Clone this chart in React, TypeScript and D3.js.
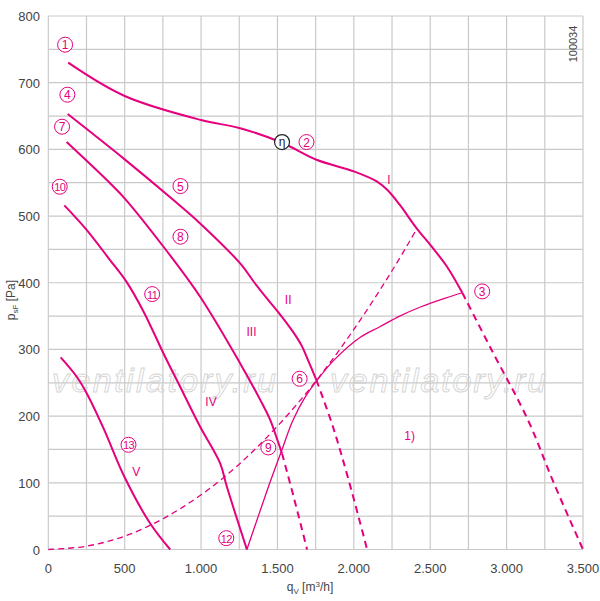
import React from "react";
import * as d3 from "d3";

// fan curves, q in m3/h, p in Pa
const curveI = [[130, 730], [500, 680], [1000, 644], [1250, 632], [1530, 610], [1760, 584], [2000, 567], [2150, 552], [2220, 539], [2300, 517], [2410, 482], [2510, 454], [2610, 424], [2710, 385]];
const curveIDash = [[2710, 385], [2900, 300], [3140, 194], [3310, 99], [3500, 0]];
const curveII = [[127, 653], [500, 585], [819, 524], [994, 489], [1256, 429], [1350, 400], [1440, 374], [1519, 352], [1600, 327], [1660, 305], [1700, 284], [1755, 254]];
const curveIIDash = [[1755, 254], [1862, 185], [1966, 104], [2087, 0]];
const curveIII = [[120, 611], [383, 554], [498, 527], [754, 454], [994, 379], [1256, 279], [1388, 224], [1453, 194], [1497, 166], [1530, 144]];
const curveIIIDash = [[1530, 144], [1606, 79], [1694, 0]];
const curveIV = [[105, 516], [252, 479], [404, 434], [510, 402], [623, 357], [754, 294], [863, 244], [994, 184], [1125, 129], [1169, 94], [1300, 0]];
const curveV = [[81, 288], [186, 259], [252, 234], [361, 182], [498, 109], [667, 39], [798, 0]];
// system curve (dashed) and limit line (thin)
const systemCurve = [[0, 0], [250, 5], [500, 20], [750, 46], [1000, 82], [1250, 128], [1500, 185], [1750, 252], [2000, 330], [2250, 418], [2410, 480]];
const limitCurve = [[1300, 0], [1450, 100], [1530, 150], [1600, 193], [1680, 228], [1760, 254], [1870, 284], [2040, 318], [2170, 334], [2300, 350], [2440, 364], [2600, 377], [2710, 385]];

const xTicks = [0, 500, 1000, 1500, 2000, 2500, 3000, 3500];
const xTickLabels = ["0", "500", "1.000", "1.500", "2.000", "2.500", "3.000", "3.500"];
const yTicks = [0, 100, 200, 300, 400, 500, 600, 700, 800];

// circled markers: [label, q, p]
const markers: [string, number, number][] = [
  ["1", 110, 757], ["2", 1690, 611], ["3", 2840, 387], ["4", 125, 682], ["5", 865, 545],
  ["6", 1645, 256], ["7", 90, 634], ["8", 865, 469], ["9", 1440, 153], ["10", 75, 544],
  ["11", 680, 383], ["12", 1165, 17], ["13", 525, 157],
];
const romans: [string, number, number][] = [
  ["I", 2230, 555], ["II", 1570, 376], ["III", 1330, 328], ["IV", 1065, 223], ["V", 575, 118], ["1)", 2365, 172],
];

const PINK = "#e5007d";
const GRID = "#c9c9c9";
const FONT = "'Liberation Sans', Arial, Helvetica, sans-serif";

export default function App() {
  const x = d3.scaleLinear().domain([0, 3500]).range([48.3, 583]);
  const y = d3.scaleLinear().domain([0, 800]).range([549.5, 16]);
  const line = d3
    .line<number[]>()
    .x((d) => x(d[0]))
    .y((d) => y(d[1]))
    .curve(d3.curveCatmullRom.alpha(0.5));

  const gridX = d3.range(0, 3501, 250);
  const gridY = d3.range(0, 801, 50);

  return (
    <svg width={600} height={601} style={{ position: "absolute", left: 0, top: 0 }} fontFamily={FONT}>
      <rect width={600} height={601} fill="#fff" />
      {gridX.map((v) => (
        <line key={"gx" + v} x1={x(v)} x2={x(v)} y1={y(0)} y2={y(800)} stroke={GRID} strokeWidth={1.2} />
      ))}
      {gridY.map((v) => (
        <line key={"gy" + v} x1={x(0)} x2={x(3500)} y1={y(v)} y2={y(v)} stroke={GRID} strokeWidth={1.2} />
      ))}

      {/* watermark */}
      <g fontSize={34} fontStyle="italic" fill="none" stroke="#d4d4d4" strokeWidth={0.9}>
        <text x={52} y={392} textLength={224}>ventilatory.ru</text>
        <text x={330} y={392} textLength={216}>ventilatory.ru</text>
      </g>

      {yTicks.map((v) => (
        <text key={"yt" + v} x={40} y={y(v) + 5} textAnchor="end" fontSize={13} fill="#444">{v}</text>
      ))}
      {xTicks.map((v, i) => (
        <text key={"xt" + v} x={x(v)} y={573} textAnchor="middle" fontSize={13} fill="#444">{xTickLabels[i]}</text>
      ))}
      <text transform="translate(15,300) rotate(-90)" textAnchor="middle" fontSize={12} fill="#444">
        p<tspan fontSize={8} dy={3}>sF</tspan><tspan dy={-3}> [Pa]</tspan>
      </text>
      <text x={310} y={591} textAnchor="middle" fontSize={12} fill="#444">
        q<tspan fontSize={8} dy={3}>V</tspan><tspan dy={-3}> [m</tspan><tspan fontSize={8} dy={-4}>3</tspan><tspan dy={4}>/h]</tspan>
      </text>
      <text transform="translate(577,44) rotate(-90)" textAnchor="middle" fontSize={11} fill="#444">100034</text>

      {/* thin curves */}
      <path d={line(systemCurve) ?? ""} fill="none" stroke={PINK} strokeWidth={1.3} strokeDasharray="6,4" />
      <path d={line(limitCurve) ?? ""} fill="none" stroke={PINK} strokeWidth={1.3} />

      {/* fan curves */}
      {[curveI, curveII, curveIII, curveIV, curveV].map((c, i) => (
        <path key={"c" + i} d={line(c) ?? ""} fill="none" stroke={PINK} strokeWidth={2} />
      ))}
      {[curveIDash, curveIIDash, curveIIIDash].map((c, i) => (
        <path key={"d" + i} d={line(c) ?? ""} fill="none" stroke={PINK} strokeWidth={2} strokeDasharray="7,5" />
      ))}

      {markers.map(([t, q, p]) => (
        <g key={"m" + t} transform={`translate(${x(q)},${y(p)})`}>
          <circle r={7.5} fill="#fff" stroke={PINK} strokeWidth={1} />
          <text y={4.5} textAnchor="middle" fontSize={t.length > 1 ? 11 : 12} fill={PINK} letterSpacing={t.length > 1 ? -0.5 : 0}>{t}</text>
        </g>
      ))}
      <g transform={`translate(${x(1530)},${y(611)})`}>
        <circle r={7.5} fill="#fff" stroke="#222" strokeWidth={1.2} />
        <text y={4} textAnchor="middle" fontSize={12} fill="#222">η</text>
      </g>
      {romans.map(([t, q, p]) => (
        <text key={"r" + t} x={x(q)} y={y(p) + 5} textAnchor="middle" fontSize={12} fill={PINK}>{t}</text>
      ))}
    </svg>
  );
}
